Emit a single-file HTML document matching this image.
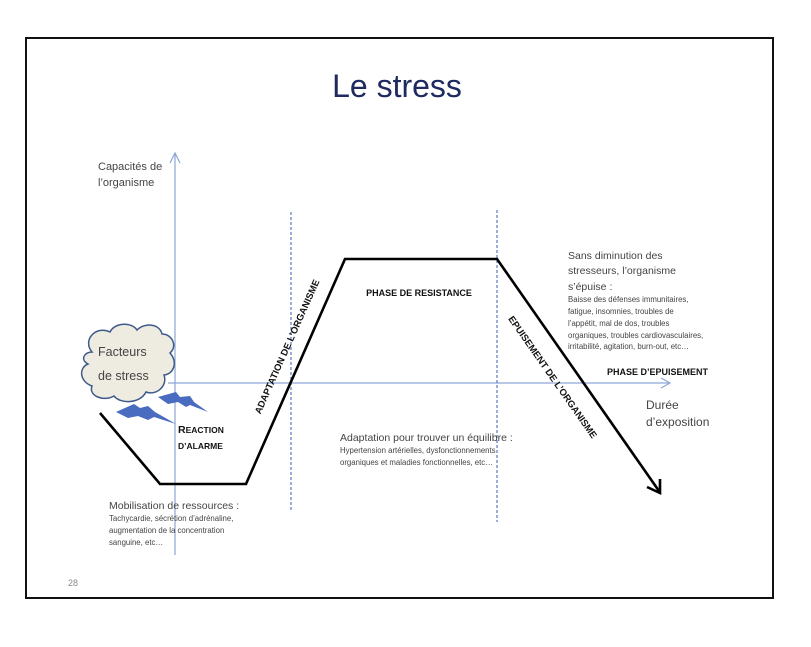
<!DOCTYPE html>
<html><head><meta charset="utf-8"><style>
html,body{margin:0;padding:0;background:#fff}
svg{display:block}
text{font-family:"Liberation Sans",sans-serif}
</style></head><body>
<svg width="811" height="647" viewBox="0 0 811 647" xmlns="http://www.w3.org/2000/svg">
<rect x="26" y="38" width="747" height="560" fill="#fff" stroke="#111" stroke-width="2"/>
<text x="397" y="97" font-size="32" text-anchor="middle" fill="#1f2a60">Le stress</text>

<g stroke="#8da6d6" stroke-width="1.2" fill="none">
<line x1="175" y1="153" x2="175" y2="555"/>
<polyline points="170,163 175,153 180,163"/>
<line x1="168" y1="383" x2="670" y2="383"/>
<polyline points="661,378 670,383 661,388"/>
</g>
<g stroke="#5a78c0" stroke-width="1.2" stroke-dasharray="3,2">
<line x1="291" y1="212" x2="291" y2="510"/>
<line x1="497" y1="210" x2="497" y2="522"/>
</g>

<polyline points="100,413 160,484 246,484 345,259 497,259 659,491" fill="none" stroke="#000" stroke-width="2.6"/>
<polyline points="647,487 660,493 660,479" fill="none" stroke="#000" stroke-width="2.6"/>

<!-- bolts -->
<path d="M158,397 L176,392 L180,397 L190,396 L194,402 L208,412 L190,405 L186,407 L178,402 L168,404 Z" fill="#4a6cc0"/>
<path d="M116,412 L134,404 L140,408 L148,406 L155,412 L176,424 L154,417 L148,420 L138,416 L128,418 Z" fill="#4a6cc0"/>
<!-- cloud -->
<path d="M92,352 C82,340 96,325 110,332 C115,322 132,322 137,330 C145,322 160,324 162,334 C172,334 178,346 170,353 C178,362 174,374 164,375 C168,386 156,396 146,392 C140,404 120,404 114,396 C104,402 88,396 92,386 C80,382 78,368 88,364 C80,360 84,352 92,352 Z" fill="#eeece1" stroke="#3f5a8a" stroke-width="1.5"/>
<text x="98" y="356" font-size="12.5" fill="#444">Facteurs</text>
<text x="98" y="380" font-size="12.5" fill="#444">de stress</text>

<text x="178" y="433" font-size="10.5" font-weight="bold" fill="#111">R<tspan font-size="8.5">EACTION</tspan></text>
<text x="178" y="449" font-size="8.5" font-weight="bold" fill="#111">D’ALARME</text>

<text transform="translate(290,348) rotate(-66)" font-size="9.5" font-weight="bold" text-anchor="middle" fill="#111">ADAPTATION DE L’ORGANISME</text>
<text transform="translate(550,379) rotate(55)" font-size="9.5" font-weight="bold" text-anchor="middle" fill="#111">EPUISEMENT DE L’ORGANISME</text>
<text x="419" y="296" font-size="9" font-weight="bold" text-anchor="middle" fill="#111">PHASE DE RESISTANCE</text>
<text x="607" y="375" font-size="9" font-weight="bold" fill="#111">PHASE D’EPUISEMENT</text>

<text x="98" y="170" font-size="11" fill="#444">Capacités de</text>
<text x="98" y="186" font-size="11" fill="#444">l’organisme</text>

<text x="646" y="409" font-size="12" fill="#444">Durée</text>
<text x="646" y="426" font-size="12" fill="#444">d’exposition</text>

<g fill="#444">
<text x="568" y="259" font-size="10.5">Sans diminution des</text>
<text x="568" y="274" font-size="10.5">stresseurs, l’organisme</text>
<text x="568" y="290" font-size="10.5">s’épuise :</text>
<text x="568" y="302" font-size="7.8">Baisse des défenses immunitaires,</text>
<text x="568" y="314" font-size="7.8">fatigue, insomnies, troubles de</text>
<text x="568" y="326" font-size="7.8">l’appétit, mal de dos, troubles</text>
<text x="568" y="338" font-size="7.8">organiques, troubles cardiovasculaires,</text>
<text x="568" y="349" font-size="7.8">irritabilité, agitation, burn-out,  etc…</text>

<text x="340" y="441" font-size="10.5">Adaptation pour trouver un équilibre :</text>
<text x="340" y="453" font-size="7.8">Hypertension artérielles, dysfonctionnements</text>
<text x="340" y="465" font-size="7.8">organiques et maladies fonctionnelles, etc…</text>

<text x="109" y="509" font-size="10.5">Mobilisation de ressources :</text>
<text x="109" y="521" font-size="7.8">Tachycardie, sécrétion d’adrénaline,</text>
<text x="109" y="533" font-size="7.8">augmentation de la concentration</text>
<text x="109" y="545" font-size="7.8">sanguine, etc…</text>
</g>
<text x="68" y="586" font-size="9" fill="#888">28</text>
</svg>
</body></html>
